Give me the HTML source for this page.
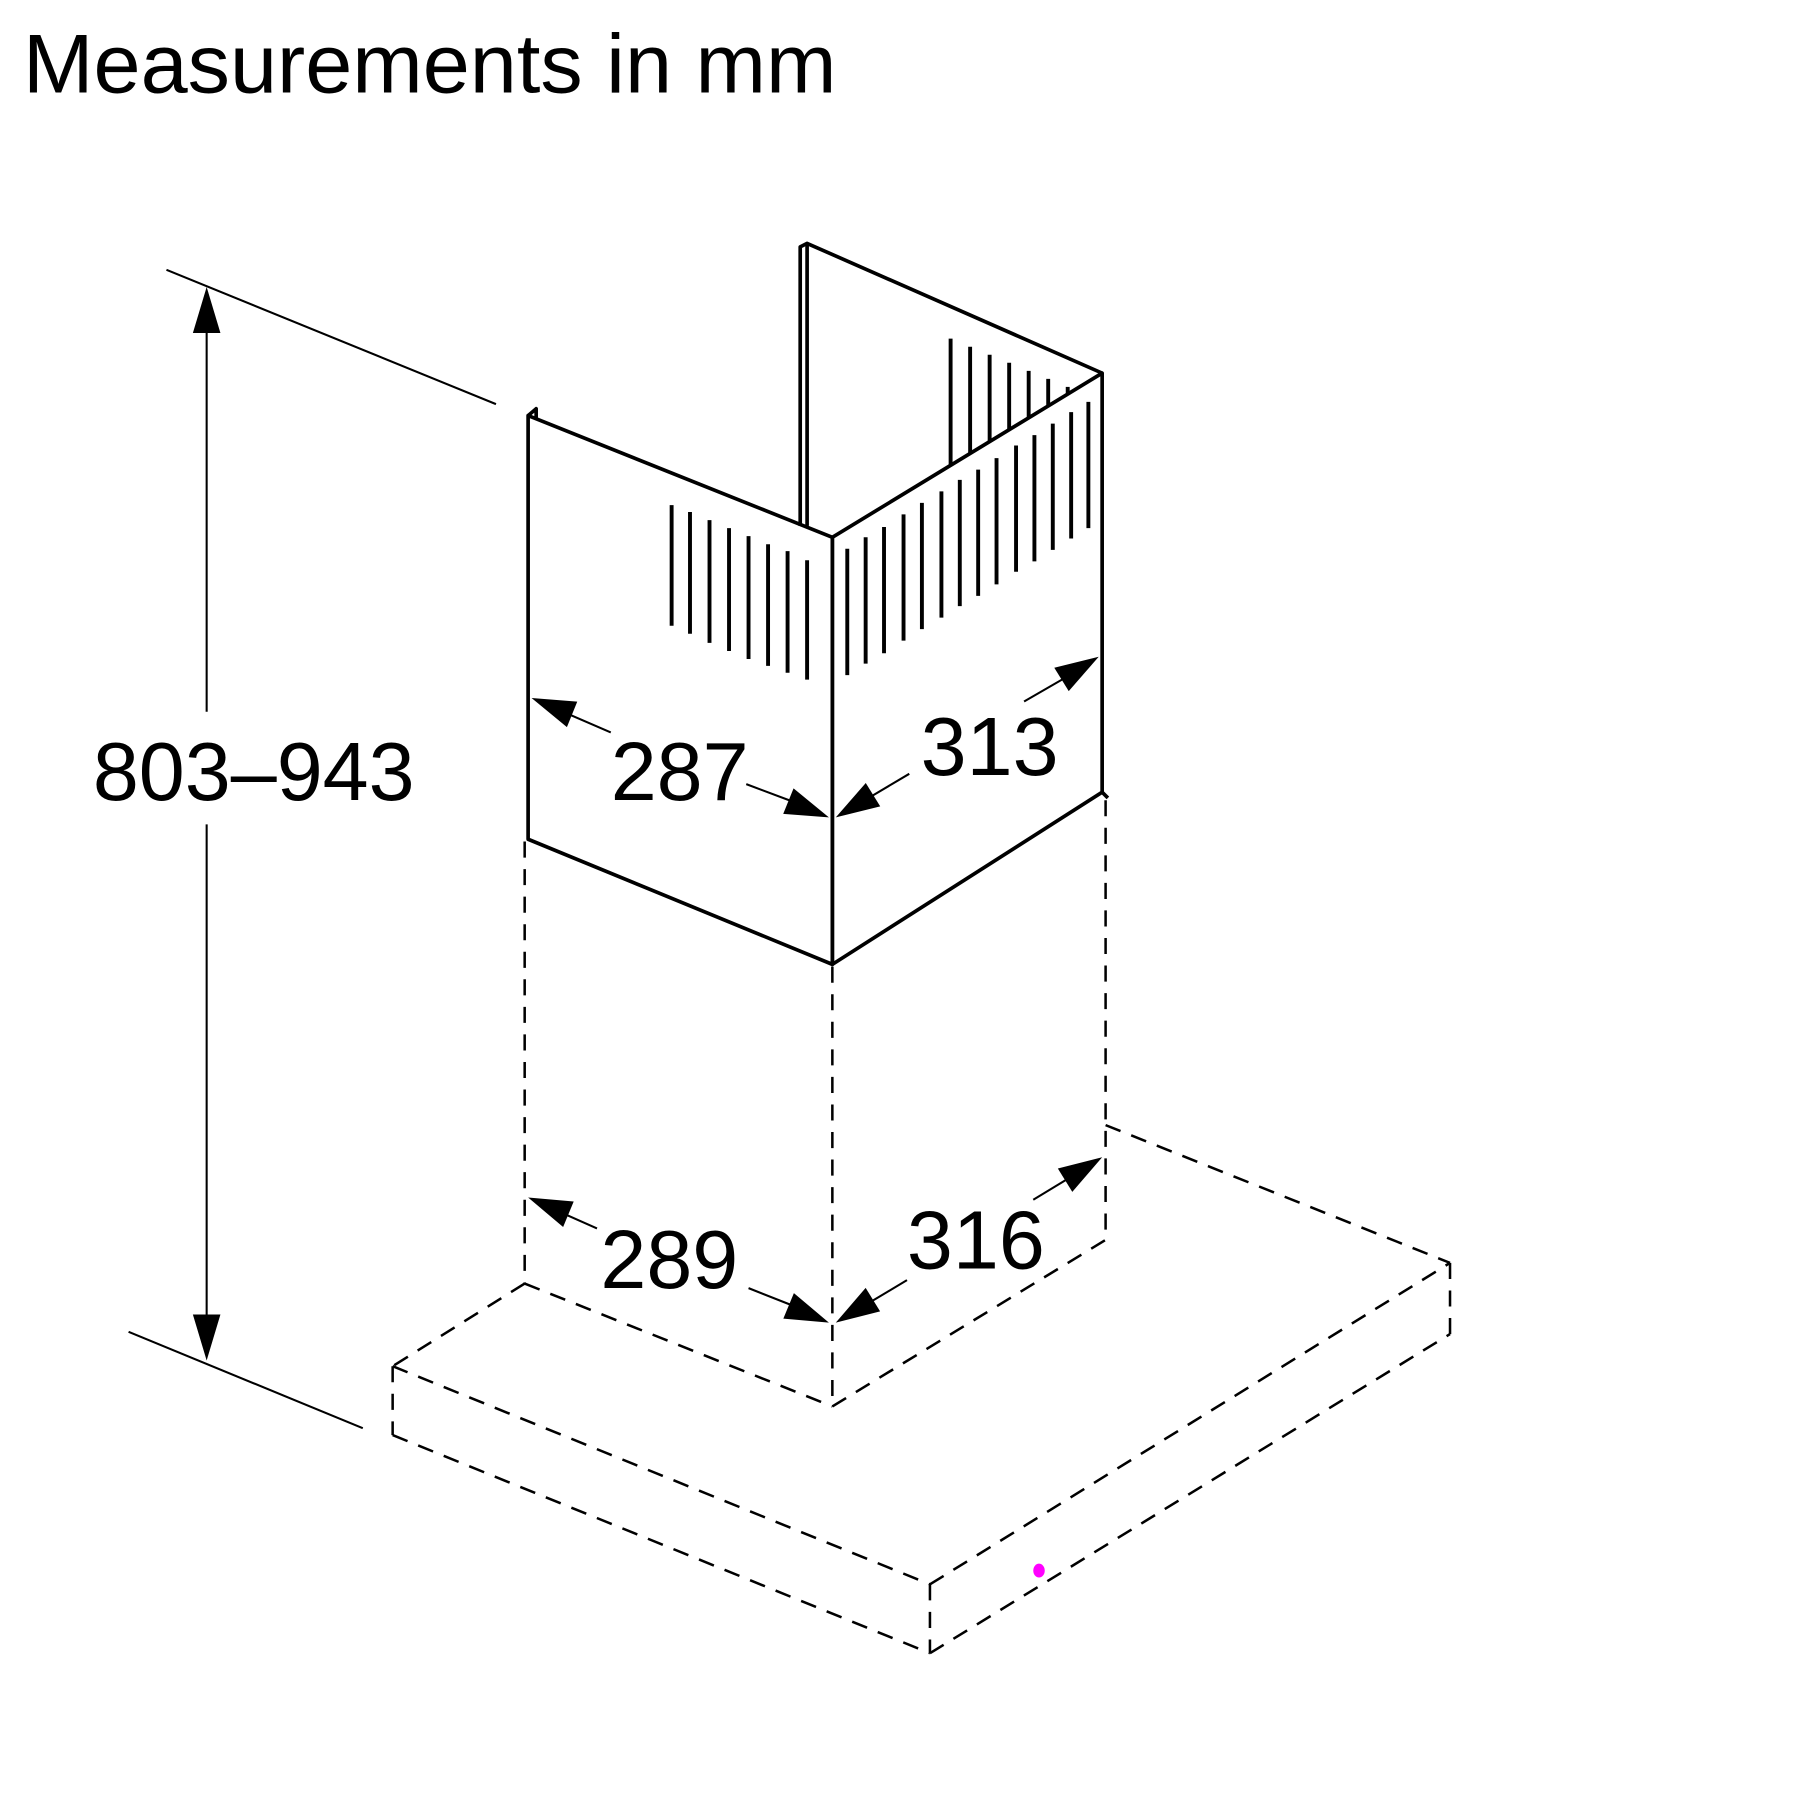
<!DOCTYPE html>
<html><head><meta charset="utf-8"><style>html,body{margin:0;padding:0;background:#fff}svg{display:block}</style></head>
<body>
<svg width="1800" height="1800" viewBox="0 0 1560 1560" xmlns="http://www.w3.org/2000/svg">
<rect width="1560" height="1560" fill="#fff"/>
<text x="20" y="80" font-family="Liberation Sans, sans-serif" font-size="72" textLength="705" lengthAdjust="spacingAndGlyphs" fill="#000">Measurements in mm</text>
<g transform="scale(0.995)">
<g stroke="#000" fill="none" stroke-width="1.8">
<line x1="145" y1="235" x2="432" y2="352"/>
<line x1="112" y1="1160" x2="316" y2="1244"/>
<line x1="180" y1="270" x2="180" y2="620"/>
<line x1="180" y1="718" x2="180" y2="1165"/>
<line x1="495" y1="622" x2="532" y2="638"/><line x1="650" y1="683" x2="690" y2="698"/>
<line x1="760" y1="693" x2="792" y2="674"/><line x1="892" y1="611" x2="925" y2="592"/>
<line x1="493" y1="1058" x2="520" y2="1070"/><line x1="652" y1="1122" x2="690" y2="1137"/>
<line x1="760" y1="1133" x2="790" y2="1115"/><line x1="900" y1="1045" x2="928" y2="1028"/>
</g>
<g fill="#000">
<polygon points="180,250 168,290 192,290"/>
<polygon points="180,1185 168,1145 192,1145"/>
<polygon points="463,608 502.8,611.1 493.8,633.3"/>
<polygon points="722,712 691.2,686.7 682.2,708.9"/>
<polygon points="957,572 930.9,602 918.3,581.6"/>
<polygon points="728,712 766.7,702.4 754.1,682"/>
<polygon points="722,1152 682.3,1148.5 691.5,1126.3"/>
<polygon points="460,1043 490.5,1068.7 499.7,1046.5"/>
<polygon points="960,1008 934,1038.2 921.4,1017.8"/>
<polygon points="728,1152 766.6,1142.2 754,1121.8"/>
</g>
<g font-family="Liberation Sans, sans-serif" font-size="72" fill="#000" text-anchor="middle">
<text x="221" y="697">803–943</text>
<text x="592" y="697">287</text>
<text x="862" y="675">313</text>
<text x="583" y="1122">289</text>
<text x="850" y="1105">316</text>
</g>
<g stroke="#000" fill="none" stroke-width="3.2" stroke-linejoin="round">
<polygon points="460,362 725,468 725,840 460,731"/>
<polygon points="725,468 960,325 960,690 725,840"/>
<polyline points="697,458 697,215 703,212 960,325"/>
<line x1="703" y1="212" x2="703" y2="458"/>
<polyline points="460,362 467,356 467,364"/>
<polyline points="960,690 965,695"/>
</g>
<g stroke="#000" stroke-width="3.4">
<line x1="585" y1="440" x2="585" y2="545"/>
<line x1="601" y1="446" x2="601" y2="552"/>
<line x1="618" y1="453" x2="618" y2="560"/>
<line x1="635" y1="460" x2="635" y2="567"/>
<line x1="652" y1="467" x2="652" y2="574"/>
<line x1="669" y1="474" x2="669" y2="580"/>
<line x1="686" y1="480" x2="686" y2="586"/>
<line x1="703" y1="488" x2="703" y2="592"/>
<line x1="738" y1="478" x2="738" y2="588"/>
<line x1="754" y1="468" x2="754" y2="578"/>
<line x1="770" y1="459" x2="770" y2="569"/>
<line x1="787" y1="448" x2="787" y2="558"/>
<line x1="803" y1="438" x2="803" y2="548"/>
<line x1="820" y1="428" x2="820" y2="538"/>
<line x1="836" y1="418" x2="836" y2="528"/>
<line x1="852" y1="409" x2="852" y2="519"/>
<line x1="868" y1="399" x2="868" y2="509"/>
<line x1="885" y1="388" x2="885" y2="498"/>
<line x1="901" y1="379" x2="901" y2="489"/>
<line x1="917" y1="369" x2="917" y2="479"/>
<line x1="933" y1="359" x2="933" y2="469"/>
<line x1="948" y1="350" x2="948" y2="460"/>
<line x1="828" y1="295" x2="828" y2="405"/>
<line x1="845" y1="302" x2="845" y2="395"/>
<line x1="862" y1="309" x2="862" y2="384"/>
<line x1="879" y1="316" x2="879" y2="374"/>
<line x1="896" y1="323" x2="896" y2="364"/>
<line x1="913" y1="330" x2="913" y2="353"/>
<line x1="930" y1="337" x2="930" y2="343"/>
</g>
<g stroke="#000" fill="none" stroke-width="2.2" stroke-dasharray="14 10">
<line x1="457" y1="733" x2="457" y2="1118"/>
<line x1="725" y1="842" x2="725" y2="1225"/>
<line x1="963" y1="697" x2="963" y2="1080"/>
<line x1="457" y1="1118" x2="342" y2="1190"/>
<line x1="457" y1="1118" x2="725" y2="1225"/>
<line x1="725" y1="1225" x2="963" y2="1080"/>
<line x1="963" y1="980" x2="1263" y2="1100"/>
<line x1="342" y1="1190" x2="810" y2="1380"/>
<line x1="810" y1="1380" x2="1263" y2="1100"/>
<line x1="342" y1="1190" x2="342" y2="1250"/>
<line x1="342" y1="1250" x2="810" y2="1440"/>
<line x1="810" y1="1380" x2="810" y2="1440"/>
<line x1="810" y1="1440" x2="1263" y2="1162"/>
<line x1="1263" y1="1100" x2="1263" y2="1162"/>
</g>
<ellipse cx="905" cy="1368" rx="5" ry="6" fill="#f0f"/>
</g>
</svg>
</body></html>
